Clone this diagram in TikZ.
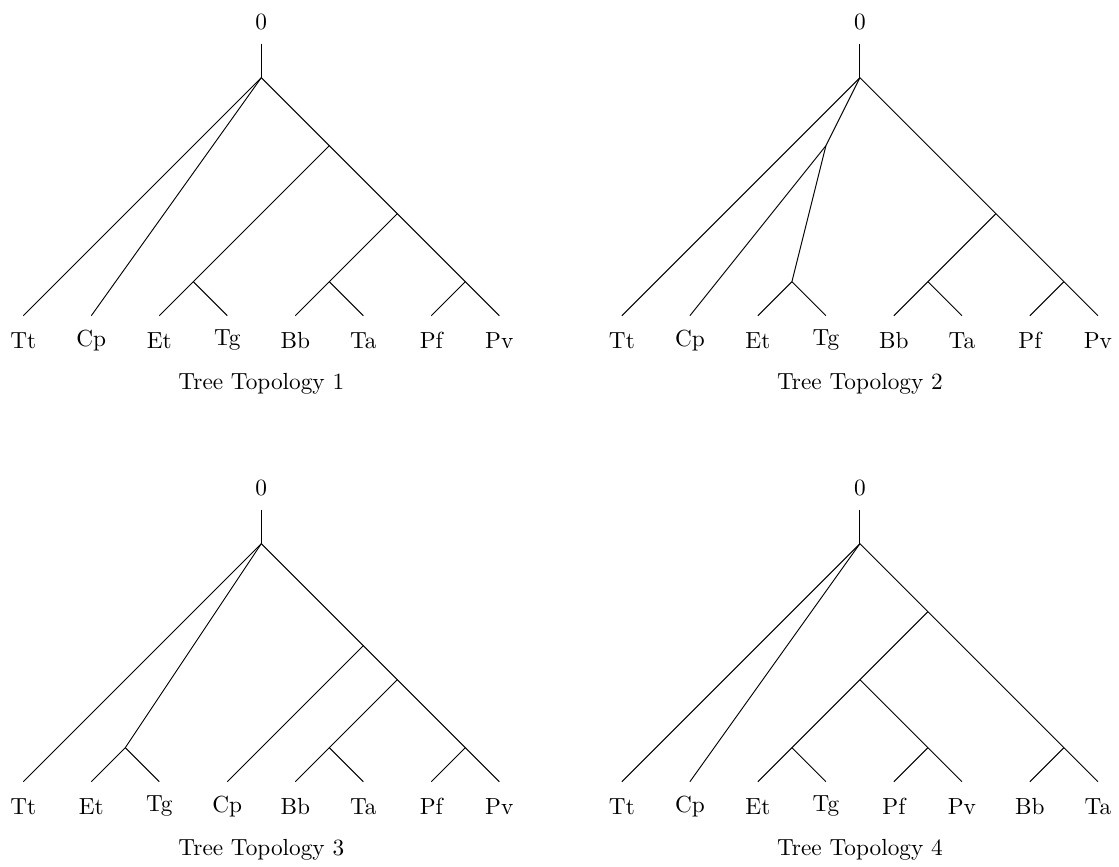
\documentclass[tikz,border=0pt]{standalone}
\usepackage{tikz}
\usetikzlibrary{positioning}

\tikzset{
  leaflab/.style={anchor=center,yshift=-10.6pt,inner sep=0pt},
  rootlab/.style={anchor=base,yshift=6.1pt,inner sep=0pt},
  treecap/.style={anchor=base,yshift=-31.6pt,inner sep=0pt}
}

\begin{document}
\begin{tikzpicture}[x=14.6pt,y=14.6pt]
\useasboundingbox (0,0) rectangle (32.91,25.47);
% Tree Topology 1
\begin{scope}[shift={(0.685,16.185)}]
\foreach \n [count=\i from 0] in {Tt,Cp,Et,Tg,Bb,Ta,Pf,Pv}{\coordinate (a\n) at (2*\i,0); \node[leaflab] (la\n) at (a\n){\n};}
\coordinate (atop) at (7,8); \coordinate (a0) at (7,7);
\coordinate (a1) at (9,5); \coordinate (a2) at (11,3); \coordinate (a3) at (13,1);
\coordinate (a4) at (5,1); \coordinate (a5) at (9,1);
\node[rootlab] (aroot) at (atop){0};
\draw (atop)--(a0);
\draw (a0)--(aTt); \draw (a0)--(aCp);
\draw (a0)--(a1)--(a2)--(a3)--(aPv);
\draw (a1)--(a4)--(aEt); \draw (a4)--(aTg);
\draw (a2)--(a5)--(aBb); \draw (a5)--(aTa);
\draw (a3)--(aPf);
\node[treecap] (acap) at (7,0){Tree Topology 1};
\end{scope}
% Tree Topology 2
\begin{scope}[shift={(18.29,16.185)}]
\foreach \n [count=\i from 0] in {Tt,Cp,Et,Tg,Bb,Ta,Pf,Pv}{\coordinate (b\n) at (2*\i,0); \node[leaflab] (lb\n) at (b\n){\n};}
\coordinate (btop) at (7,8); \coordinate (b0) at (7,7);
\coordinate (bG) at (6,5); \coordinate (bH) at (5,1);
\coordinate (b1) at (11,3); \coordinate (b2) at (9,1); \coordinate (b3) at (13,1);
\node[rootlab] (broot) at (btop){0};
\draw (btop)--(b0);
\draw (b0)--(bTt); \draw (b0)--(bG)--(bCp);
\draw (bG)--(bH)--(bEt); \draw (bH)--(bTg);
\draw (b0)--(b1)--(b3)--(bPv);
\draw (b1)--(b2)--(bBb); \draw (b2)--(bTa);
\draw (b3)--(bPf);
\node[treecap] (bcap) at (7,0){Tree Topology 2};
\end{scope}
% Tree Topology 3
\begin{scope}[shift={(0.685,2.48)}]
\foreach \n [count=\i from 0] in {Tt,Et,Tg,Cp,Bb,Ta,Pf,Pv}{\coordinate (c\n) at (2*\i,0); \node[leaflab] (lc\n) at (c\n){\n};}
\coordinate (ctop) at (7,8); \coordinate (c0) at (7,7);
\coordinate (cK) at (3,1);
\coordinate (c1) at (10,4); \coordinate (c2) at (11,3); \coordinate (c3) at (9,1); \coordinate (c4) at (13,1);
\node[rootlab] (croot) at (ctop){0};
\draw (ctop)--(c0);
\draw (c0)--(cTt);
\draw (c0)--(cK)--(cEt); \draw (cK)--(cTg);
\draw (c0)--(c1)--(c2)--(c4)--(cPv);
\draw (c1)--(cCp);
\draw (c2)--(c3)--(cBb); \draw (c3)--(cTa);
\draw (c4)--(cPf);
\node[treecap] (ccap) at (7,0){Tree Topology 3};
\end{scope}
% Tree Topology 4
\begin{scope}[shift={(18.29,2.48)}]
\foreach \n [count=\i from 0] in {Tt,Cp,Et,Tg,Pf,Pv,Bb,Ta}{\coordinate (d\n) at (2*\i,0); \node[leaflab] (ld\n) at (d\n){\n};}
\coordinate (dtop) at (7,8); \coordinate (d0) at (7,7);
\coordinate (d1) at (9,5); \coordinate (d2) at (7,3); \coordinate (d3) at (5,1);
\coordinate (d4) at (9,1); \coordinate (d5) at (13,1);
\node[rootlab] (droot) at (dtop){0};
\draw (dtop)--(d0);
\draw (d0)--(dTt); \draw (d0)--(dCp);
\draw (d0)--(d1)--(d5)--(dTa);
\draw (d1)--(d2)--(d3)--(dEt); \draw (d3)--(dTg);
\draw (d2)--(d4)--(dPv); \draw (d4)--(dPf);
\draw (d5)--(dBb);
\node[treecap] (dcap) at (7,0){Tree Topology 4};
\end{scope}
\end{tikzpicture}
\end{document}
